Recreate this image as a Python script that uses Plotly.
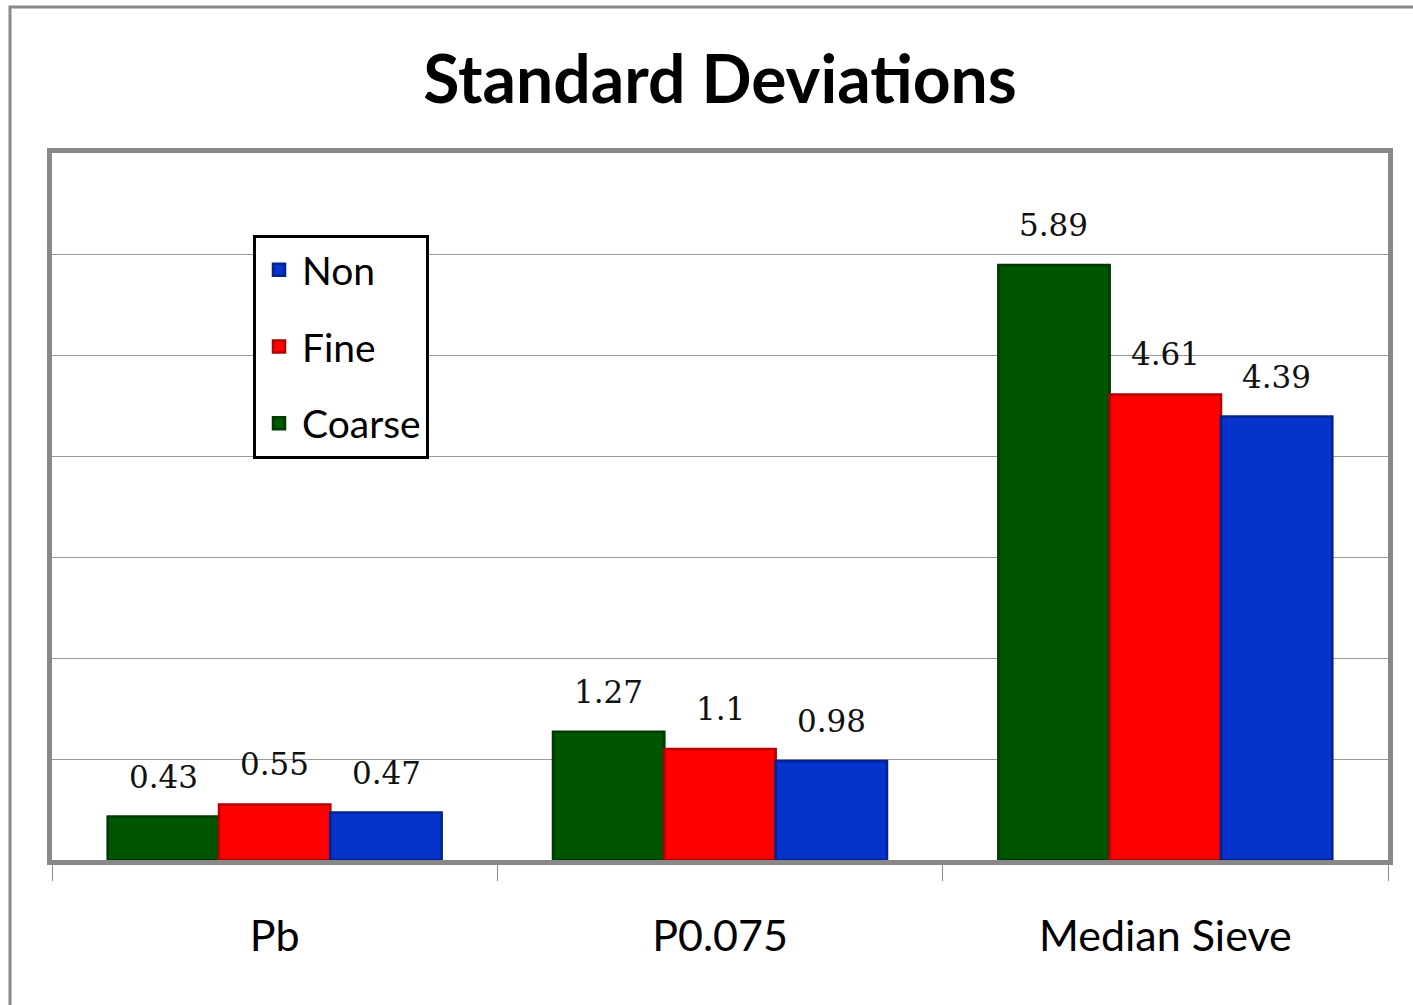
import plotly.graph_objects as go

categories = ["Pb", "P0.075", "Median Sieve"]
series_names = ["Coarse", "Fine", "Non"]
coarse = [0.43, 1.27, 5.89]
fine = [0.55, 1.10, 4.61]
non = [0.47, 0.98, 4.39]
label_coarse = ["0.43", "1.27", "5.89"]
label_fine = ["0.55", "1.1", "4.61"]
label_non = ["0.47", "0.98", "4.39"]
legend_rank = {"Non": 1, "Fine": 2, "Coarse": 3}

colors = {"Coarse": "#005500", "Fine": "#FF0000", "Non": "#0633CC"}
edge = {"Coarse": "#003a00", "Fine": "#b30000", "Non": "#03238f"}

W, H = 1413, 1005
ML, MR, MT, MB = 52, 25, 153, 145
BARGAP = 0.25

fig = go.Figure()
values = {"Coarse": coarse, "Fine": fine, "Non": non}
labels = {"Coarse": label_coarse, "Fine": label_fine, "Non": label_non}
for i, name in enumerate(series_names):
    fig.add_trace(go.Bar(
        x=categories, y=values[name], name=name,
        legendgroup=name, legendrank=legend_rank[name],
        marker=dict(color=colors[name], line=dict(color=edge[name], width=2.5)),
    ))

plot_w = W - ML - MR
cat_w = plot_w / len(categories)
bar_w = cat_w * (1 - BARGAP) / len(series_names)
for i, name in enumerate(series_names):
    shift = (i - (len(series_names) - 1) / 2) * bar_w
    for c, v, t in zip(categories, values[name], labels[name]):
        fig.add_annotation(x=c, y=v, text=t, showarrow=False,
                           xshift=shift, yshift=40, yanchor="middle",
                           font=dict(family="DejaVu Serif", size=31, color="#111"))

plot_h = H - MT - MB
fig.add_shape(type="rect", xref="paper", yref="paper",
              x0=(10 - ML) / plot_w, x1=(W + 20 - ML) / plot_w,
              y0=-(H + 20 - (H - MB)) / plot_h, y1=((H - MB) - 7) / plot_h,
              line=dict(color="#888888", width=3), layer="below")

fig.update_layout(
    width=W, height=H,
    margin=dict(l=ML, r=MR, t=MT, b=MB),
    paper_bgcolor="white", plot_bgcolor="white",
    barmode="group", bargap=BARGAP, bargroupgap=0,
    title=dict(text="<b>Standard Deviations</b>", x=0.5, xref="paper",
               y=1 - 80 / H, yanchor="middle",
               font=dict(family="Lato", size=66, color="black")),
    legend=dict(x=(253 - ML) / plot_w, y=(H - MB - 235) / plot_h,
                xanchor="left", yanchor="top",
                traceorder="grouped", tracegroupgap=23, itemwidth=36,
                bordercolor="black", borderwidth=3, bgcolor="white",
                font=dict(family="Lato", size=39, color="black")),
    xaxis=dict(showline=True, mirror=True, linecolor="#888888", linewidth=5,
               ticks="outside", tickson="boundaries", ticklen=16,
               tickcolor="#888888", tickwidth=1, ticklabelstandoff=34,
               tickfont=dict(family="Lato", size=43, color="black"),
               showgrid=False),
    yaxis=dict(range=[0, 7], dtick=1, showline=True, mirror=True,
               linecolor="#888888", linewidth=5, showticklabels=False,
               showgrid=True, gridcolor="#999999", gridwidth=1,
               zeroline=False),
)

fig.write_html("out.html", config={"displayModeBar": False},
               post_script="document.body.style.margin='0px';")
